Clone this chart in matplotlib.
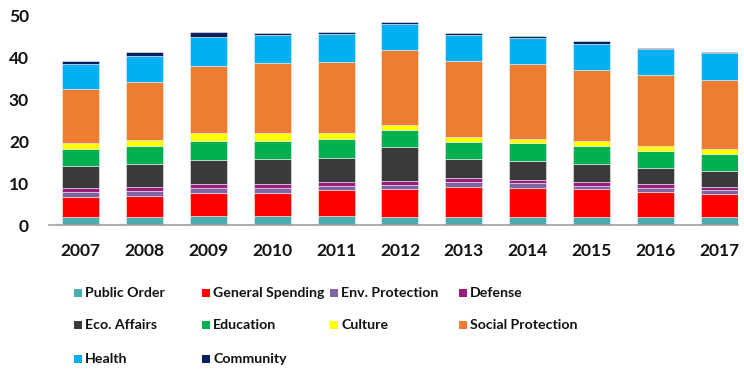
import matplotlib.pyplot as plt
from matplotlib.patches import Rectangle
import numpy as np

plt.rcParams['font.family'] = ['Lato', 'DejaVu Sans']
plt.rcParams['font.weight'] = 'bold'

years = ['2007', '2008', '2009', '2010', '2011', '2012',
         '2013', '2014', '2015', '2016', '2017']

series_names = ['Public Order', 'General Spending', 'Env. Protection', 'Defense',
                'Eco. Affairs', 'Education', 'Culture', 'Social Protection',
                'Health', 'Community']

public_order = [1.85, 1.9, 2.1, 2.2, 2.2, 2.0, 2.0, 1.9, 1.9, 1.85, 1.85]
general_spending = [4.95, 5.1, 5.6, 5.55, 6.2, 6.7, 7.2, 7.05, 6.6, 6.15, 5.5]
env_protection = [1.05, 1.1, 1.1, 1.05, 0.95, 0.9, 1.1, 1.15, 0.85, 0.8, 0.95]
defense = [0.95, 0.9, 1.0, 1.0, 1.05, 0.95, 0.9, 0.7, 0.95, 0.95, 0.9]
eco_affairs = [5.3, 5.6, 5.8, 5.9, 5.7, 8.05, 4.5, 4.5, 4.4, 4.0, 3.8]
education = [4.0, 4.2, 4.5, 4.4, 4.4, 4.2, 4.1, 4.2, 4.2, 4.05, 4.0]
culture = [1.6, 1.6, 1.8, 1.8, 1.6, 1.2, 1.3, 1.1, 1.2, 1.1, 1.15]
social_protection = [12.9, 13.9, 16.2, 16.9, 17.0, 17.8, 18.2, 17.8, 17.1, 17.0, 16.65]
health = [5.8, 6.1, 6.8, 6.6, 6.5, 6.3, 6.2, 6.3, 6.2, 6.2, 6.3]
community = [0.9, 1.0, 1.3, 0.6, 0.6, 0.5, 0.4, 0.5, 0.5, 0.3, 0.4]

series = [public_order, general_spending, env_protection, defense, eco_affairs,
          education, culture, social_protection, health, community]
colors = ['#4BACB0', '#FF0000', '#8064A2', '#9B1B7E', '#3A3A3A',
          '#00B050', '#FFFF00', '#ED7D31', '#00B0F0', '#002060']

fig = plt.figure(figsize=(7.44, 3.72), dpi=100)
ax = fig.add_axes([48.5 / 744, 147 / 372, 689.5 / 744, 209 / 372])

x = np.arange(len(years))
bottom = np.zeros(len(years))
for vals, color in zip(series, colors):
    ax.bar(x, vals, bottom=bottom, width=0.58, color=color,
           edgecolor='#f0f0f0', linewidth=0.4)
    bottom += np.array(vals)

ax.set_xlim(-0.5, 10.29)
ax.set_ylim(0, 50)
ax.set_xticks(x)
ax.set_xticklabels(years)
ax.set_yticks([0, 10, 20, 30, 40, 50])
ax.tick_params(axis='both', length=0, labelsize=12.5, labelcolor='#111111')
ax.tick_params(axis='x', pad=13)
ax.tick_params(axis='y', pad=14)
for side in ['top', 'right', 'left']:
    ax.spines[side].set_visible(False)
ax.spines['bottom'].set_color('#a0a0a0')
ax.spines['bottom'].set_linewidth(1.2)

# legend laid out in a fixed grid, row by row
col_x = [74, 202, 330, 459]
row_y = [293, 325, 359]
for i, (name, color) in enumerate(zip(series_names, colors)):
    cx = col_x[i % 4]
    cy = row_y[i // 4]
    fig.patches.append(Rectangle((cx / 744, (372 - cy - 4) / 372), 8 / 744, 8 / 372,
                                 transform=fig.transFigure, facecolor=color,
                                 edgecolor='none'))
    fig.text((cx + 11) / 744, (372 - cy) / 372, name, fontsize=10.2,
             fontweight='bold', va='center', ha='left', color='#111111')

fig.savefig('out.png', dpi=100)
